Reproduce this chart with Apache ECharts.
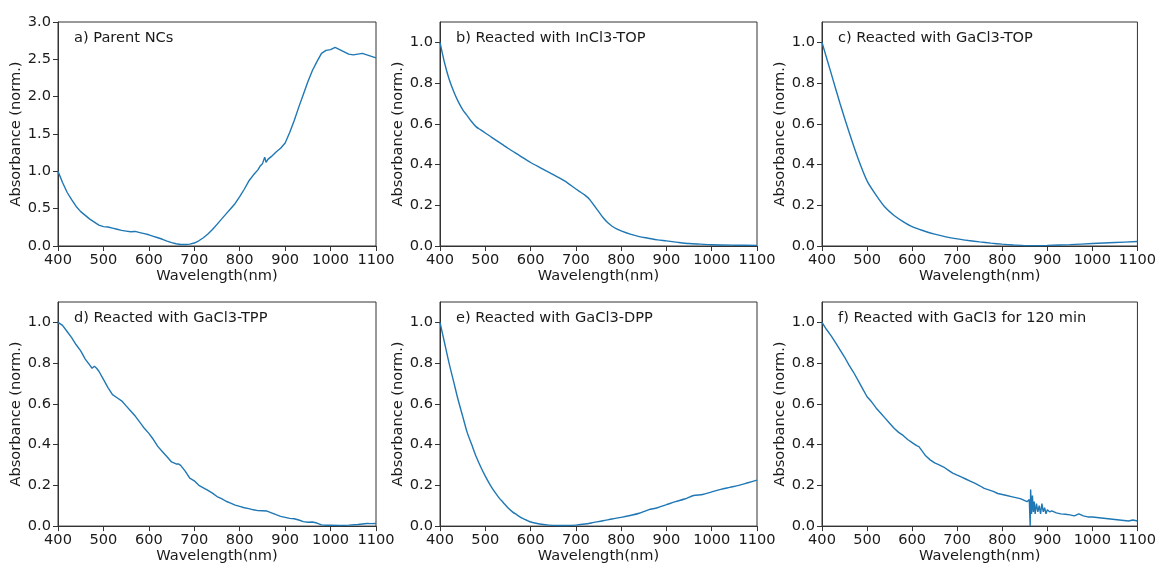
<!DOCTYPE html>
<html>
<head>
<meta charset="utf-8">
<script src="https://cdn.jsdelivr.net/npm/echarts@6/dist/echarts.min.js"></script>
<style>
  html, body { margin: 0; padding: 0; background: #fff; }
  #chart { width: 1159px; height: 565px; }
</style>
</head>
<body>
<div id="chart"></div>
<script>
// panel labels
const panelTitles = [
    'a) Parent NCs',
    'b) Reacted with InCl3-TOP',
    'c) Reacted with GaCl3-TOP',
    'd) Reacted with GaCl3-TPP',
    'e) Reacted with GaCl3-DPP',
    'f) Reacted with GaCl3 for 120 min'
];

const xTicks = [400, 500, 600, 700, 800, 900, 1000, 1100];
const yTicksA = [0, 0.5, 1.0, 1.5, 2.0, 2.5, 3.0];
const yTicksNorm = [0, 0.2, 0.4, 0.6, 0.8, 1.0];

// a) parent NCs
const waveA = [400,410,420,430,440,450,460,470,480,490,500,510,520,530,540,550,560,570,580,590,
    600,610,620,630,640,650,660,670,680,690,700,710,720,730,740,750,760,770,780,790,
    800,810,820,830,840,845,850,855,858,862,866,870,875,880,890,900,910,920,930,940,950,960,970,980,990,
    1000,1010,1020,1030,1040,1050,1060,1070,1080,1090,1100];
const absA = [1.0,0.85,0.72,0.62,0.53,0.46,0.41,0.36,0.32,0.28,0.26,0.255,0.24,0.225,0.21,0.20,0.19,0.195,0.18,0.165,
    0.15,0.13,0.11,0.09,0.065,0.045,0.03,0.02,0.02,0.025,0.04,0.07,0.11,0.16,0.22,0.29,0.36,0.43,0.50,0.57,
    0.66,0.76,0.87,0.95,1.02,1.07,1.10,1.19,1.12,1.16,1.18,1.20,1.23,1.26,1.31,1.38,1.52,1.68,1.86,2.03,2.20,2.35,2.47,2.58,2.62,
    2.63,2.66,2.63,2.60,2.57,2.56,2.57,2.58,2.56,2.54,2.52];

// b) InCl3-TOP
const waveB = [400,410,420,430,440,450,460,470,480,490,500,510,520,530,540,550,575,600,625,650,675,
    700,710,720,730,740,750,760,770,780,790,800,820,840,860,880,900,925,950,975,1000,1050,1100];
const absB = [1.0,0.90,0.82,0.76,0.71,0.67,0.64,0.61,0.585,0.57,0.555,0.54,0.525,0.51,0.495,0.48,0.445,0.41,0.38,0.35,0.32,
    0.28,0.265,0.25,0.23,0.20,0.17,0.14,0.115,0.097,0.084,0.074,0.058,0.046,0.038,0.03,0.025,0.018,0.012,0.009,0.006,0.004,0.003];

// c) GaCl3-TOP
const waveC = [400,420,440,460,480,500,520,540,560,580,600,625,650,675,700,725,750,775,800,825,850,875,900,950,1000,1050,1100];
const absC = [1.0,0.85,0.70,0.56,0.43,0.32,0.25,0.19,0.15,0.12,0.095,0.075,0.058,0.045,0.035,0.027,0.02,0.014,0.009,0.005,0.002,0.002,0.003,0.007,0.012,0.017,0.022];

// d) GaCl3-TPP
const waveD = [400,410,420,430,440,450,460,470,475,480,485,490,500,510,520,530,540,550,560,570,580,590,
    600,610,620,630,640,650,660,665,670,680,690,700,710,720,730,740,750,760,770,780,790,
    800,810,820,830,840,850,860,870,880,890,900,910,920,930,940,950,960,970,980,990,
    1000,1020,1040,1060,1080,1090,1100];
const absD = [1.0,0.985,0.955,0.925,0.89,0.86,0.82,0.79,0.775,0.785,0.775,0.76,0.72,0.68,0.645,0.63,0.615,0.59,0.565,0.54,0.51,0.48,
    0.455,0.425,0.39,0.365,0.34,0.315,0.305,0.305,0.298,0.27,0.235,0.222,0.20,0.188,0.175,0.162,0.145,0.135,0.122,0.113,0.103,
    0.097,0.09,0.086,0.08,0.076,0.075,0.074,0.065,0.056,0.048,0.043,0.038,0.036,0.03,0.022,0.019,0.02,0.015,0.006,0.004,
    0.005,0.003,0.005,0.008,0.013,0.012,0.013];

// e) GaCl3-DPP
const waveE = [400,410,420,430,440,450,460,470,480,490,500,510,520,530,540,550,560,570,580,590,
    600,620,640,660,680,700,720,740,760,780,800,820,840,860,880,900,920,940,960,980,
    1000,1020,1040,1060,1080,1100];
const absE = [1.0,0.90,0.80,0.71,0.62,0.54,0.46,0.40,0.34,0.29,0.245,0.205,0.17,0.14,0.115,0.09,0.07,0.055,0.04,0.03,
    0.02,0.01,0.005,0.003,0.003,0.005,0.01,0.018,0.026,0.035,0.043,0.052,0.063,0.08,0.09,0.105,0.12,0.133,0.15,0.155,
    0.168,0.18,0.19,0.20,0.213,0.226];

// f) GaCl3 for 120 min
const waveF = [400,410,420,430,440,450,460,470,480,490,500,510,520,530,540,550,560,570,580,590,
    600,610,615,620,630,640,650,660,670,680,690,700,710,720,730,740,750,760,770,780,790,
    800,810,820,830,840,850,855,860,862,863,865,867,869,871,873,876,879,882,885,888,891,894,897,
    900,905,910,920,930,940,950,960,970,980,990,1000,1020,1040,1060,1080,1090,1100];
const absF = [1.0,0.965,0.935,0.90,0.865,0.83,0.79,0.755,0.715,0.675,0.635,0.61,0.58,0.555,0.53,0.505,0.48,0.46,0.445,0.425,
    0.41,0.395,0.39,0.375,0.345,0.325,0.31,0.30,0.29,0.275,0.26,0.25,0.24,0.23,0.22,0.21,0.198,0.185,0.178,0.17,0.16,
    0.155,0.15,0.145,0.14,0.135,0.125,0.12,0.13,0.0,0.18,0.06,0.15,0.07,0.12,0.06,0.11,0.07,0.10,0.06,0.11,0.07,0.09,0.06,
    0.08,0.07,0.075,0.065,0.06,0.058,0.055,0.05,0.06,0.05,0.045,0.045,0.04,0.035,0.03,0.025,0.03,0.025];

const panels = [
    { wave: waveA, abs: absA, yMax: 3.0, yTicks: yTicksA, smooth: false },
    { wave: waveB, abs: absB, yMax: 1.1, yTicks: yTicksNorm, smooth: 0.3 },
    { wave: waveC, abs: absC, yMax: 1.1, yTicks: yTicksNorm, smooth: 0.3 },
    { wave: waveD, abs: absD, yMax: 1.1, yTicks: yTicksNorm, smooth: false },
    { wave: waveE, abs: absE, yMax: 1.1, yTicks: yTicksNorm, smooth: 0.3 },
    { wave: waveF, abs: absF, yMax: 1.1, yTicks: yTicksNorm, smooth: false }
];

const lefts = [58, 440, 822];
const widths = [318, 317, 317];
const tops = [22, 302];
const heights = [224, 225];

const font = 'DejaVu Sans';
const fontSize = 14.6;
const textColor = '#1a1a1a';
const axisColor = '#333';

const grids = [], xAxes = [], yAxes = [], series = [], titles = [];

panels.forEach((p, i) => {
    const col = i % 3, row = Math.floor(i / 3);
    grids.push({
        left: lefts[col], top: tops[row], width: widths[col], height: heights[row],
        show: true, borderColor: axisColor, borderWidth: 1, backgroundColor: 'transparent'
    });
    xAxes.push({
        type: 'value', gridIndex: i, min: 400, max: 1100, interval: 100,
        name: 'Wavelength(nm)', nameLocation: 'middle', nameGap: 22,
        nameTextStyle: { fontFamily: font, fontSize: fontSize, color: textColor },
        axisLine: { show: true, lineStyle: { color: axisColor, width: 1 } },
        axisTick: { show: true, inside: false, length: 5, lineStyle: { color: axisColor }, customValues: xTicks },
        axisLabel: {
            fontFamily: font, fontSize: fontSize, color: textColor, margin: 7,
            customValues: xTicks,
            formatter: v => String(v)
        },
        splitLine: { show: false }
    });
    yAxes.push({
        type: 'value', gridIndex: i, min: 0, max: p.yMax,
        name: 'Absorbance (norm.)', nameLocation: 'middle', nameGap: 33,
        nameTextStyle: { fontFamily: font, fontSize: fontSize, color: textColor },
        axisLine: { show: true, lineStyle: { color: axisColor, width: 1 } },
        axisTick: { show: true, inside: false, length: 5, lineStyle: { color: axisColor }, customValues: p.yTicks },
        axisLabel: {
            fontFamily: font, fontSize: fontSize, color: textColor, margin: 7,
            customValues: p.yTicks,
            formatter: v => v.toFixed(1)
        },
        splitLine: { show: false }
    });
    series.push({
        type: 'line', xAxisIndex: i, yAxisIndex: i,
        data: p.wave.map((w, k) => [w, p.abs[k]]),
        showSymbol: false, smooth: p.smooth,
        lineStyle: { color: '#1f77b4', width: 1.4 },
        itemStyle: { color: '#1f77b4' }
    });
    titles.push({
        text: panelTitles[i],
        left: lefts[col] + 16, top: tops[row] + 9, padding: 0,
        textStyle: { fontFamily: font, fontSize: fontSize, fontWeight: 'normal', color: textColor }
    });
});

const chart = echarts.init(document.getElementById('chart'));
chart.setOption({
    animation: false,
    backgroundColor: '#fff',
    title: titles,
    grid: grids,
    xAxis: xAxes,
    yAxis: yAxes,
    series: series
});

window.addEventListener('resize', () => chart.resize());
</script>
</body>
</html>
